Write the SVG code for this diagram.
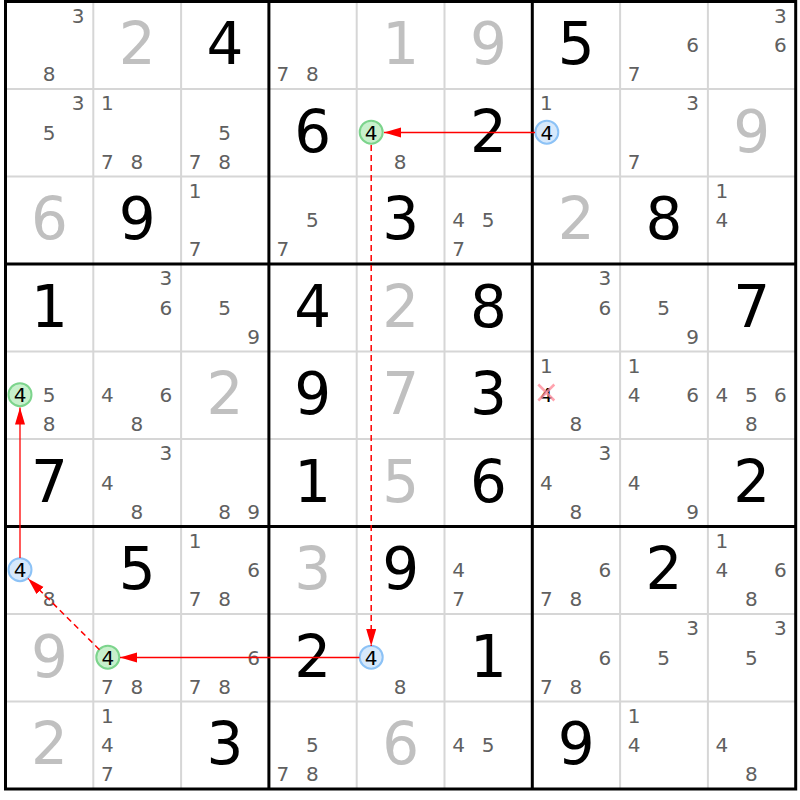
<svg xmlns="http://www.w3.org/2000/svg" width="800" height="800" viewBox="0 0 800 800">
<style>
.bg{fill:#fff}
.thin{stroke:#d6d6d6;stroke-width:2;fill:none}
.thick{stroke:#000;stroke-width:3;fill:none}
.c{font-family:"DejaVu Sans",Verdana,sans-serif;font-size:20px;fill:#606060;text-anchor:middle}
.ch{font-family:"DejaVu Sans",Verdana,sans-serif;font-size:20px;fill:#000;text-anchor:middle}
.b{font-family:"DejaVu Sans",Verdana,sans-serif;font-size:58px;fill:#000;text-anchor:middle}
.g{font-family:"DejaVu Sans",Verdana,sans-serif;font-size:58px;fill:#c0c0c0;text-anchor:middle}
.hg{fill:#c8f0cc;stroke:#7cd48c;stroke-width:2}
.hb{fill:#d6e8fb;stroke:#8cc2f6;stroke-width:2}
.del{stroke:#ff8c9a;stroke-width:2.5;fill:none;opacity:0.8}
</style>
<defs>
<marker id="ah" markerUnits="userSpaceOnUse" markerWidth="18" markerHeight="11" refX="17" refY="5" orient="auto">
<path d="M0,0 L17,5 L0,10 z" fill="#ff0000"/>
</marker>
</defs>
<rect class="bg" x="0" y="0" width="800" height="800"/>
<g id="grid">
<path class="thin" d="M93.3,1.5V789M181.1,1.5V789M356.7,1.5V789M444.5,1.5V789M620.1,1.5V789M707.9,1.5V789M5.5,89H795.7M5.5,176.5H795.7M5.5,351.5H795.7M5.5,439H795.7M5.5,614H795.7M5.5,701.5H795.7"/>
<path class="thick" d="M268.9,1.5V789M532.3,1.5V789M5.5,264H795.7M5.5,526.5H795.7"/>
<rect class="thick" x="5.5" y="1.5" width="790.2" height="787.5"/>
</g>
<!-- row 0 -->
<g id="r0c0" transform="translate(5.5,1.5)"><text class="c" x="72.5" y="21">3</text><text class="c" x="43.5" y="79.5">8</text></g>
<g id="r0c1" transform="translate(93.3,1.5)"><text class="g" x="43.9" y="62.5">2</text></g>
<g id="r0c2" transform="translate(181.1,1.5)"><text class="b" x="43.9" y="62.5">4</text></g>
<g id="r0c3" transform="translate(268.9,1.5)"><text class="c" x="14" y="79.5">7</text><text class="c" x="43.5" y="79.5">8</text></g>
<g id="r0c4" transform="translate(356.7,1.5)"><text class="g" x="43.9" y="62.5">1</text></g>
<g id="r0c5" transform="translate(444.5,1.5)"><text class="g" x="43.9" y="62.5">9</text></g>
<g id="r0c6" transform="translate(532.3,1.5)"><text class="b" x="43.9" y="62.5">5</text></g>
<g id="r0c7" transform="translate(620.1,1.5)"><text class="c" x="72.5" y="50.5">6</text><text class="c" x="14" y="79.5">7</text></g>
<g id="r0c8" transform="translate(707.9,1.5)"><text class="c" x="72.5" y="21">3</text><text class="c" x="72.5" y="50.5">6</text></g>
<!-- row 1 -->
<g id="r1c0" transform="translate(5.5,89)"><text class="c" x="72.5" y="21">3</text><text class="c" x="43.5" y="50.5">5</text></g>
<g id="r1c1" transform="translate(93.3,89)"><text class="c" x="14" y="21">1</text><text class="c" x="14" y="79.5">7</text><text class="c" x="43.5" y="79.5">8</text></g>
<g id="r1c2" transform="translate(181.1,89)"><text class="c" x="43.5" y="50.5">5</text><text class="c" x="14" y="79.5">7</text><text class="c" x="43.5" y="79.5">8</text></g>
<g id="r1c3" transform="translate(268.9,89)"><text class="b" x="43.9" y="62.5">6</text></g>
<g id="r1c4" transform="translate(356.7,89)"><circle class="hg" cx="14.5" cy="43.2" r="11.5"/><text class="ch" x="14.5" y="50.5">4</text><text class="c" x="43.5" y="79.5">8</text></g>
<g id="r1c5" transform="translate(444.5,89)"><text class="b" x="43.9" y="62.5">2</text></g>
<g id="r1c6" transform="translate(532.3,89)"><text class="c" x="14" y="21">1</text><circle class="hb" cx="14.5" cy="43.2" r="11.5"/><text class="ch" x="14.5" y="50.5">4</text></g>
<g id="r1c7" transform="translate(620.1,89)"><text class="c" x="72.5" y="21">3</text><text class="c" x="14" y="79.5">7</text></g>
<g id="r1c8" transform="translate(707.9,89)"><text class="g" x="43.9" y="62.5">9</text></g>
<!-- row 2 -->
<g id="r2c0" transform="translate(5.5,176.5)"><text class="g" x="43.9" y="62.5">6</text></g>
<g id="r2c1" transform="translate(93.3,176.5)"><text class="b" x="43.9" y="62.5">9</text></g>
<g id="r2c2" transform="translate(181.1,176.5)"><text class="c" x="14" y="21">1</text><text class="c" x="14" y="79.5">7</text></g>
<g id="r2c3" transform="translate(268.9,176.5)"><text class="c" x="43.5" y="50.5">5</text><text class="c" x="14" y="79.5">7</text></g>
<g id="r2c4" transform="translate(356.7,176.5)"><text class="b" x="43.9" y="62.5">3</text></g>
<g id="r2c5" transform="translate(444.5,176.5)"><text class="c" x="14" y="50.5">4</text><text class="c" x="43.5" y="50.5">5</text><text class="c" x="14" y="79.5">7</text></g>
<g id="r2c6" transform="translate(532.3,176.5)"><text class="g" x="43.9" y="62.5">2</text></g>
<g id="r2c7" transform="translate(620.1,176.5)"><text class="b" x="43.9" y="62.5">8</text></g>
<g id="r2c8" transform="translate(707.9,176.5)"><text class="c" x="14" y="21">1</text><text class="c" x="14" y="50.5">4</text></g>
<!-- row 3 -->
<g id="r3c0" transform="translate(5.5,264)"><text class="b" x="43.9" y="62.5">1</text></g>
<g id="r3c1" transform="translate(93.3,264)"><text class="c" x="72.5" y="21">3</text><text class="c" x="72.5" y="50.5">6</text></g>
<g id="r3c2" transform="translate(181.1,264)"><text class="c" x="43.5" y="50.5">5</text><text class="c" x="72.5" y="79.5">9</text></g>
<g id="r3c3" transform="translate(268.9,264)"><text class="b" x="43.9" y="62.5">4</text></g>
<g id="r3c4" transform="translate(356.7,264)"><text class="g" x="43.9" y="62.5">2</text></g>
<g id="r3c5" transform="translate(444.5,264)"><text class="b" x="43.9" y="62.5">8</text></g>
<g id="r3c6" transform="translate(532.3,264)"><text class="c" x="72.5" y="21">3</text><text class="c" x="72.5" y="50.5">6</text></g>
<g id="r3c7" transform="translate(620.1,264)"><text class="c" x="43.5" y="50.5">5</text><text class="c" x="72.5" y="79.5">9</text></g>
<g id="r3c8" transform="translate(707.9,264)"><text class="b" x="43.9" y="62.5">7</text></g>
<!-- row 4 -->
<g id="r4c0" transform="translate(5.5,351.5)"><circle class="hg" cx="14.5" cy="43.2" r="11.5"/><text class="ch" x="14.5" y="50.5">4</text><text class="c" x="43.5" y="50.5">5</text><text class="c" x="43.5" y="79.5">8</text></g>
<g id="r4c1" transform="translate(93.3,351.5)"><text class="c" x="14" y="50.5">4</text><text class="c" x="72.5" y="50.5">6</text><text class="c" x="43.5" y="79.5">8</text></g>
<g id="r4c2" transform="translate(181.1,351.5)"><text class="g" x="43.9" y="62.5">2</text></g>
<g id="r4c3" transform="translate(268.9,351.5)"><text class="b" x="43.9" y="62.5">9</text></g>
<g id="r4c4" transform="translate(356.7,351.5)"><text class="g" x="43.9" y="62.5">7</text></g>
<g id="r4c5" transform="translate(444.5,351.5)"><text class="b" x="43.9" y="62.5">3</text></g>
<g id="r4c6" transform="translate(532.3,351.5)"><text class="c" x="14" y="21">1</text><text class="ch" x="14" y="50.5">4</text><path class="del" d="M6,33L22,49M22,33L6,49"/><text class="c" x="43.5" y="79.5">8</text></g>
<g id="r4c7" transform="translate(620.1,351.5)"><text class="c" x="14" y="21">1</text><text class="c" x="14" y="50.5">4</text><text class="c" x="72.5" y="50.5">6</text></g>
<g id="r4c8" transform="translate(707.9,351.5)"><text class="c" x="14" y="50.5">4</text><text class="c" x="43.5" y="50.5">5</text><text class="c" x="72.5" y="50.5">6</text><text class="c" x="43.5" y="79.5">8</text></g>
<!-- row 5 -->
<g id="r5c0" transform="translate(5.5,439)"><text class="b" x="43.9" y="62.5">7</text></g>
<g id="r5c1" transform="translate(93.3,439)"><text class="c" x="72.5" y="21">3</text><text class="c" x="14" y="50.5">4</text><text class="c" x="43.5" y="79.5">8</text></g>
<g id="r5c2" transform="translate(181.1,439)"><text class="c" x="43.5" y="79.5">8</text><text class="c" x="72.5" y="79.5">9</text></g>
<g id="r5c3" transform="translate(268.9,439)"><text class="b" x="43.9" y="62.5">1</text></g>
<g id="r5c4" transform="translate(356.7,439)"><text class="g" x="43.9" y="62.5">5</text></g>
<g id="r5c5" transform="translate(444.5,439)"><text class="b" x="43.9" y="62.5">6</text></g>
<g id="r5c6" transform="translate(532.3,439)"><text class="c" x="72.5" y="21">3</text><text class="c" x="14" y="50.5">4</text><text class="c" x="43.5" y="79.5">8</text></g>
<g id="r5c7" transform="translate(620.1,439)"><text class="c" x="14" y="50.5">4</text><text class="c" x="72.5" y="79.5">9</text></g>
<g id="r5c8" transform="translate(707.9,439)"><text class="b" x="43.9" y="62.5">2</text></g>
<!-- row 6 -->
<g id="r6c0" transform="translate(5.5,526.5)"><circle class="hb" cx="14.5" cy="43.2" r="11.5"/><text class="ch" x="14.5" y="50.5">4</text><text class="c" x="43.5" y="79.5">8</text></g>
<g id="r6c1" transform="translate(93.3,526.5)"><text class="b" x="43.9" y="62.5">5</text></g>
<g id="r6c2" transform="translate(181.1,526.5)"><text class="c" x="14" y="21">1</text><text class="c" x="72.5" y="50.5">6</text><text class="c" x="14" y="79.5">7</text><text class="c" x="43.5" y="79.5">8</text></g>
<g id="r6c3" transform="translate(268.9,526.5)"><text class="g" x="43.9" y="62.5">3</text></g>
<g id="r6c4" transform="translate(356.7,526.5)"><text class="b" x="43.9" y="62.5">9</text></g>
<g id="r6c5" transform="translate(444.5,526.5)"><text class="c" x="14" y="50.5">4</text><text class="c" x="14" y="79.5">7</text></g>
<g id="r6c6" transform="translate(532.3,526.5)"><text class="c" x="72.5" y="50.5">6</text><text class="c" x="14" y="79.5">7</text><text class="c" x="43.5" y="79.5">8</text></g>
<g id="r6c7" transform="translate(620.1,526.5)"><text class="b" x="43.9" y="62.5">2</text></g>
<g id="r6c8" transform="translate(707.9,526.5)"><text class="c" x="14" y="21">1</text><text class="c" x="14" y="50.5">4</text><text class="c" x="72.5" y="50.5">6</text><text class="c" x="43.5" y="79.5">8</text></g>
<!-- row 7 -->
<g id="r7c0" transform="translate(5.5,614)"><text class="g" x="43.9" y="62.5">9</text></g>
<g id="r7c1" transform="translate(93.3,614)"><circle class="hg" cx="14.5" cy="43.2" r="11.5"/><text class="ch" x="14.5" y="50.5">4</text><text class="c" x="14" y="79.5">7</text><text class="c" x="43.5" y="79.5">8</text></g>
<g id="r7c2" transform="translate(181.1,614)"><text class="c" x="72.5" y="50.5">6</text><text class="c" x="14" y="79.5">7</text><text class="c" x="43.5" y="79.5">8</text></g>
<g id="r7c3" transform="translate(268.9,614)"><text class="b" x="43.9" y="62.5">2</text></g>
<g id="r7c4" transform="translate(356.7,614)"><circle class="hb" cx="14.5" cy="43.2" r="11.5"/><text class="ch" x="14.5" y="50.5">4</text><text class="c" x="43.5" y="79.5">8</text></g>
<g id="r7c5" transform="translate(444.5,614)"><text class="b" x="43.9" y="62.5">1</text></g>
<g id="r7c6" transform="translate(532.3,614)"><text class="c" x="72.5" y="50.5">6</text><text class="c" x="14" y="79.5">7</text><text class="c" x="43.5" y="79.5">8</text></g>
<g id="r7c7" transform="translate(620.1,614)"><text class="c" x="72.5" y="21">3</text><text class="c" x="43.5" y="50.5">5</text></g>
<g id="r7c8" transform="translate(707.9,614)"><text class="c" x="72.5" y="21">3</text><text class="c" x="43.5" y="50.5">5</text></g>
<!-- row 8 -->
<g id="r8c0" transform="translate(5.5,701.5)"><text class="g" x="43.9" y="62.5">2</text></g>
<g id="r8c1" transform="translate(93.3,701.5)"><text class="c" x="14" y="21">1</text><text class="c" x="14" y="50.5">4</text><text class="c" x="14" y="79.5">7</text></g>
<g id="r8c2" transform="translate(181.1,701.5)"><text class="b" x="43.9" y="62.5">3</text></g>
<g id="r8c3" transform="translate(268.9,701.5)"><text class="c" x="43.5" y="50.5">5</text><text class="c" x="14" y="79.5">7</text><text class="c" x="43.5" y="79.5">8</text></g>
<g id="r8c4" transform="translate(356.7,701.5)"><text class="g" x="43.9" y="62.5">6</text></g>
<g id="r8c5" transform="translate(444.5,701.5)"><text class="c" x="14" y="50.5">4</text><text class="c" x="43.5" y="50.5">5</text></g>
<g id="r8c6" transform="translate(532.3,701.5)"><text class="b" x="43.9" y="62.5">9</text></g>
<g id="r8c7" transform="translate(620.1,701.5)"><text class="c" x="14" y="21">1</text><text class="c" x="14" y="50.5">4</text></g>
<g id="r8c8" transform="translate(707.9,701.5)"><text class="c" x="14" y="50.5">4</text><text class="c" x="43.5" y="79.5">8</text></g>
<g id="connectors" fill="none">
<line x1="535" y1="132.5" x2="384" y2="132.5" stroke="#ff0000" stroke-width="1.3" marker-end="url(#ah)"/>
<line x1="371.2" y1="145" x2="371.2" y2="646" stroke="#ff0000" stroke-width="1.5" stroke-dasharray="6,4" marker-end="url(#ah)"/>
<line x1="359.5" y1="657.5" x2="120" y2="657.5" stroke="#ff0000" stroke-width="1.3" marker-end="url(#ah)"/>
<line x1="99.5" y1="649.7" x2="28" y2="578.5" stroke="#ff0000" stroke-width="1.5" stroke-dasharray="6,4" marker-end="url(#ah)"/>
<line x1="20" y1="558" x2="20" y2="407.5" stroke="#ff0000" stroke-width="1.3" marker-end="url(#ah)"/>
</g>
</svg>
